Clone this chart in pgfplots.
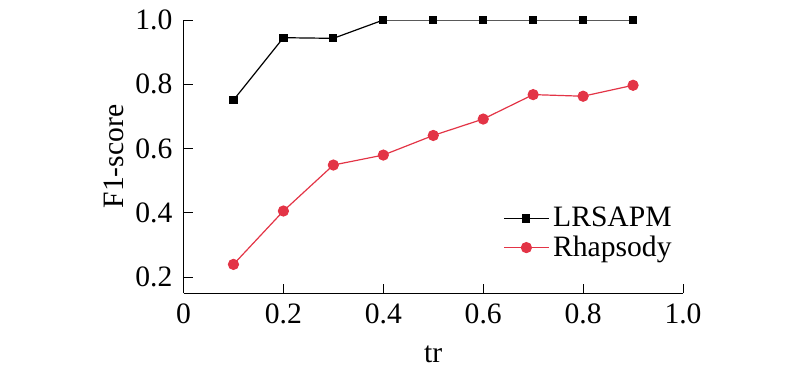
\documentclass[border=0pt]{standalone}
\usepackage{pgfplots}
\pgfplotsset{compat=1.18}
\usepackage{fontspec}
\setmainfont{Liberation Serif}
\definecolor{myred}{RGB}{227,52,70}
\begin{document}
\begin{tikzpicture}
\begin{axis}[
  scale only axis,
  width=249.75pt, height=136.5pt,
  xmin=0, xmax=1, ymin=0.151, ymax=1.0,
  axis x line*=bottom, axis y line*=left,
  axis line style={line width=0.5pt},
  tick align=inside,
  major tick length=4.5pt,
  tick style={line width=0.5pt, black},
  /pgf/number format/assume math mode=true,
  xtick={0,0.2,0.4,0.6,0.8,1.0},
  xticklabels={\textrm{0},\textrm{0.2},\textrm{0.4},\textrm{0.6},\textrm{0.8},\textrm{1.0}},
  ytick={0.2,0.4,0.6,0.8,1.0},
  yticklabels={\textrm{0.2},\textrm{0.4},\textrm{0.6},\textrm{0.8},\textrm{1.0}},
  font=\fontsize{14.8pt}{17pt}\selectfont,
  xticklabel style={yshift=-2pt},
  yticklabel style={xshift=-2pt},
  xlabel={tr}, ylabel={F1-score},
  xlabel style={yshift=-4pt},
  ylabel style={yshift=-1pt},
  legend cell align=left,
  legend style={draw=none, fill=none, at={(rel axis cs:0.628,0.345)}, anchor=north west,
    row sep=-1pt, font=\fontsize{14.8pt}{17pt}\selectfont},
  legend image code/.code={\draw[mark repeat=2,mark phase=2,#1] plot coordinates {(0cm,0cm) (0.39cm,0cm) (0.78cm,0cm)};},
]
\addplot[black, line width=0.6pt, mark=square*, mark size=1.75pt, mark options={solid}] coordinates {
(0.1,0.751) (0.2,0.945) (0.3,0.943) (0.4,1.0) (0.5,1.0) (0.6,1.0) (0.7,1.0) (0.8,1.0) (0.9,1.0)};
\addlegendentry{LRSAPM}
\addplot[myred, line width=0.6pt, mark=*, mark size=2.5pt, mark options={solid}] coordinates {
(0.1,0.240) (0.2,0.406) (0.3,0.549) (0.4,0.580) (0.5,0.641) (0.6,0.692) (0.7,0.768) (0.8,0.763) (0.9,0.797)};
\addlegendentry{Rhapsody}
\coordinate (bl) at (rel axis cs:-0.3674,-0.2747);
\coordinate (tr) at (rel axis cs:1.2342,1.0733);
\end{axis}
\pgfresetboundingbox
\useasboundingbox (bl) rectangle (tr);
\end{tikzpicture}
\end{document}
